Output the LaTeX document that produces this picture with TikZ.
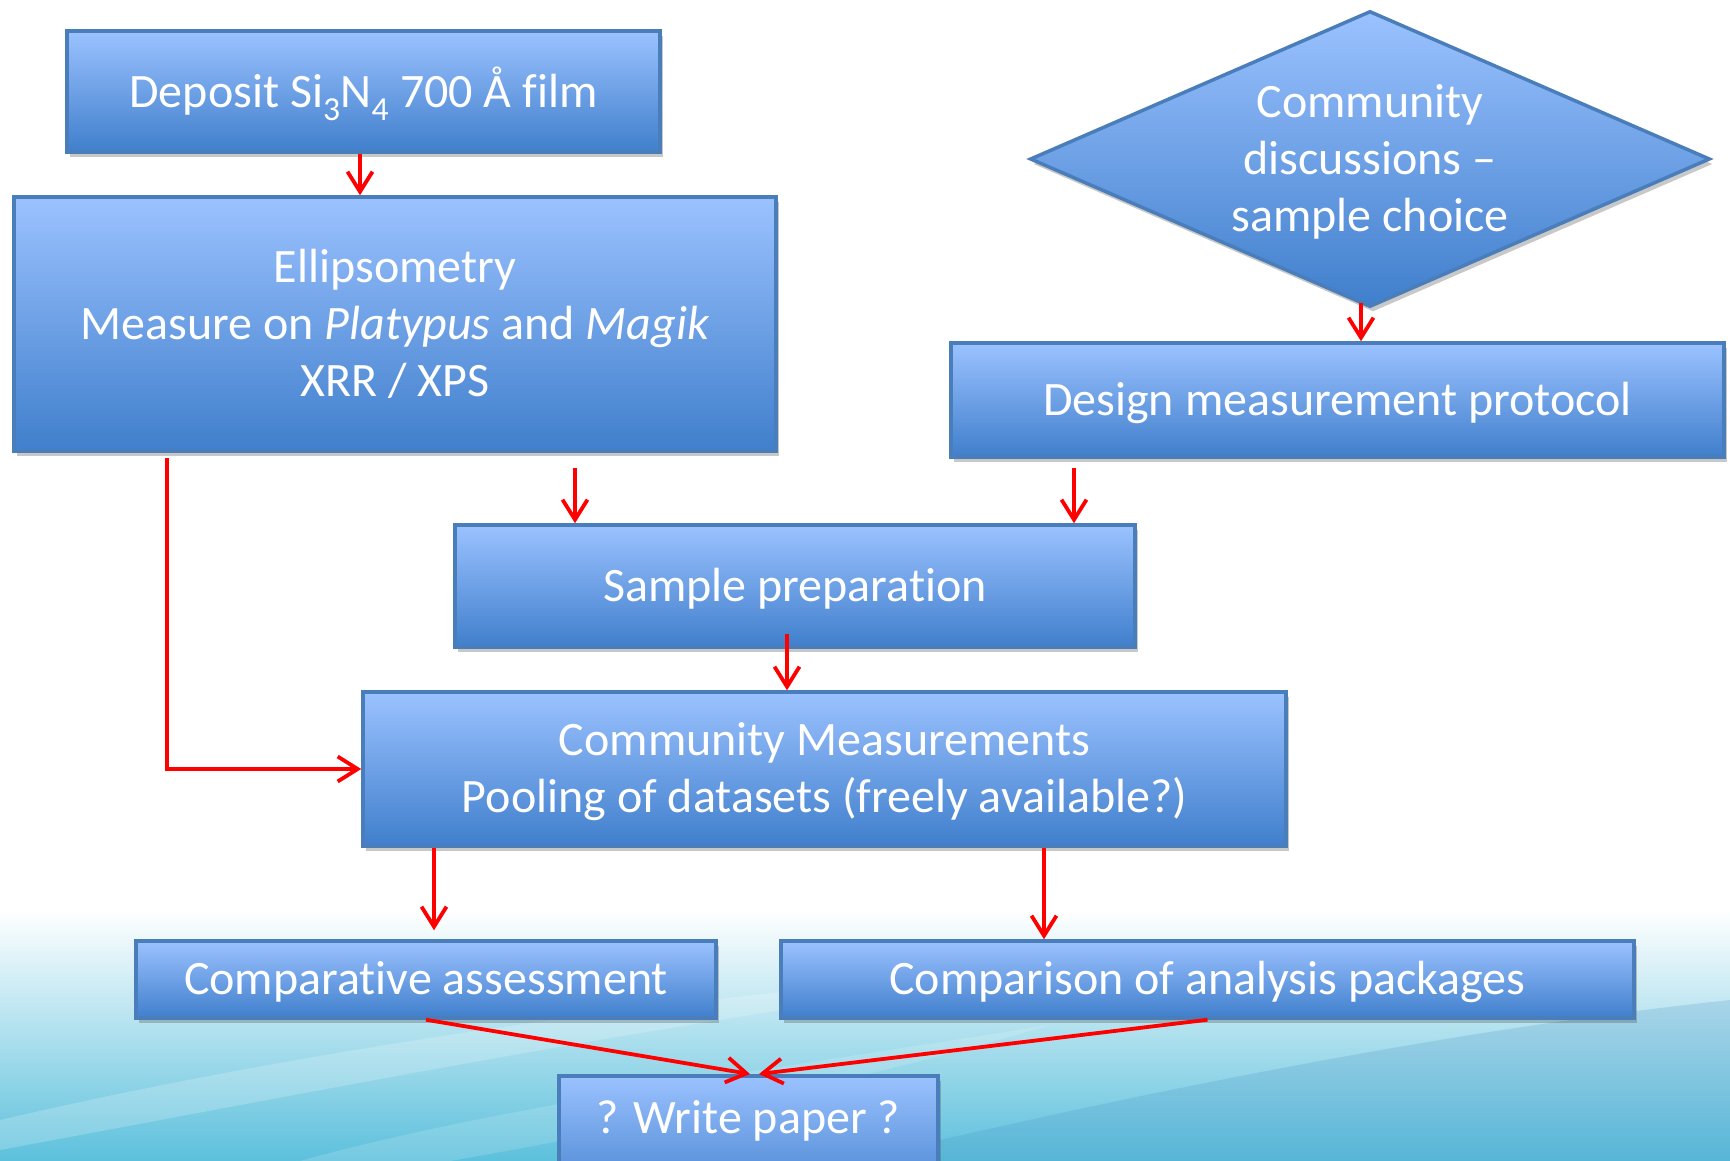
\documentclass[tikz,border=0pt]{standalone}
\usepackage{fontspec}
\setmainfont{Carlito}[Ligatures=NoCommon]
\usetikzlibrary{shapes.geometric,shadows,arrows.meta}
\definecolor{boxtop}{RGB}{155,194,255}
\definecolor{boxbot}{RGB}{64,127,204}
\definecolor{boxline}{RGB}{74,126,187}
\definecolor{bgsea}{RGB}{92,192,220}
\definecolor{bgdeep}{RGB}{70,145,198}
\newcommand{\boxfnt}{\fontsize{48}{57}\selectfont}
\newcommand{\lowr}[1]{\raisebox{-4pt}[\height][\depth]{\begin{tabular}{@{}c@{}}#1\end{tabular}}}
\tikzset{
  flowbox/.style={draw=boxline, line width=3.5pt, top color=boxtop, bottom color=boxbot,
    text=white, align=center, inner sep=0pt, font=\boxfnt,
    drop shadow={shadow xshift=3pt, shadow yshift=-5pt, opacity=0.3, fill=black!70}},
  arr/.style={draw=red, line width=3.8pt, -{Straight Barb[length=20pt,width=25pt]}},
}
\begin{document}
\begin{tikzpicture}[x=1pt,y=-1pt]
\useasboundingbox (0,0) rectangle (1730,1161);
% background
\fill[white] (0,0) rectangle (1730,1161);
\shade[top color=white, bottom color=bgsea] (0,910) rectangle (1730,1161);
\fill[bgdeep, opacity=0.22] (850,1161) .. controls (1150,1090) and (1450,1030) .. (1730,1000) -- (1730,1161) -- cycle;
\fill[white, opacity=0.2] (0,1120) .. controls (300,1050) and (700,990) .. (1100,965) .. controls (700,1015) and (350,1085) .. (0,1150) -- cycle;
\fill[white, opacity=0.15] (300,1161) .. controls (500,1105) and (800,1065) .. (1050,1025) .. controls (850,1085) and (600,1135) .. (450,1161) -- cycle;

% nodes
\node[flowbox, minimum width=593pt, minimum height=121pt] (dep) at (363.5,91.5)
  {\lowr{Deposit Si\textsubscript{3}N\textsubscript{4} 700 Å film}};
\node[flowbox, minimum width=762pt, minimum height=254pt] (ell) at (395,324)
  {\lowr{Ellipsometry\\Measure on \textit{Platypus} and \textit{Magik}\\XRR / XPS}};
\node[flowbox, diamond, aspect=2.3, minimum width=680pt, minimum height=296pt] (dia) at (1370,159)
  {\lowr{Community\\discussions –\\sample choice}};
\node[flowbox, minimum width=773pt, minimum height=114pt] (des) at (1337.5,400)
  {\lowr{Design measurement protocol}};
\node[flowbox, minimum width=680pt, minimum height=122pt] (samp) at (795,586)
  {\lowr{Sample preparation}};
\node[flowbox, minimum width=923pt, minimum height=154pt] (comm) at (824.5,769)
  {\lowr{Community Measurements\\Pooling of datasets (freely available?)}};
\node[flowbox, minimum width=580pt, minimum height=77pt] (compa) at (426,979.5)
  {\lowr{Comparative assessment}};
\node[flowbox, minimum width=853pt, minimum height=77pt] (compb) at (1207.5,979.5)
  {\lowr{Comparison of analysis packages}};
\node[flowbox, anchor=north, minimum width=379pt, text height=58pt, text depth=72pt] (paper) at (748.5,1074)
  {? Write paper ?};

% connector x positions
\coordinate (c1) at (360,0);
\coordinate (c2) at (1361,0);
\coordinate (c3) at (575,0);
\coordinate (c4) at (1074,0);
\coordinate (c5) at (787,0);
\coordinate (c6) at (167,0);
\coordinate (c7) at (434,0);
\coordinate (c8) at (1044,0);
\coordinate (c9) at (750,0);
\coordinate (c10) at (759,0);

% connectors
\draw[arr] (dep.south -| c1) -- (ell.north -| c1);
\draw[arr] ([yshift=6pt]dia.south -| c2) -- (des.north -| c2);
\draw[arr] ([yshift=-15pt]ell.south -| c3) -- (samp.north -| c3);
\draw[arr] ([yshift=-9pt]des.south -| c4) -- (samp.north -| c4);
\draw[arr] ([yshift=15pt]samp.south -| c5) -- (comm.north -| c5);
\draw[arr] ([yshift=-5pt]ell.south -| c6) |- (comm.west);
\draw[arr] (comm.south -| c7) -- ([yshift=9pt]compa.north -| c7);
\draw[arr] (comm.south -| c8) -- (compb.north -| c8);
\draw[arr] (compa.south) -- (paper.north -| c9);
\draw[arr] (compb.south) -- (paper.north -| c10);
\end{tikzpicture}
\end{document}
